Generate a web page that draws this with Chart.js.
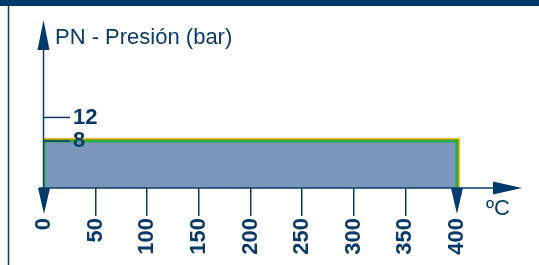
<!DOCTYPE html>
<html><head><meta charset="utf-8">
<script src="https://cdn.jsdelivr.net/npm/chart.js@4/dist/chart.umd.min.js"></script>
<style>html,body{margin:0;padding:0;background:#fff;overflow:hidden}#wrap{width:539px;height:265px;position:relative}canvas{display:block}</style>
</head><body><div id="wrap"><canvas id="c" width="539" height="265" style="width:539px;height:265px"></canvas></div>
<script>
// Data
const temperatures = [0, 0, 400, 400];
const pressurePN8 = [0, 8, 8, 0];
const pressureOutline = [0, 8, 8, 0];
const xTickValues = [0, 50, 100, 150, 200, 250, 300, 350, 400];
const yTickValues = [8, 12];
const yTitle = 'PN - Presión (bar)';
const xTitle = 'ºC';

const NAVY = '#0b3a6a';
const FONT = '"Liberation Sans", Arial, sans-serif';

const decor = {
  id: 'decor',
  afterDraw(chart) {
    const ctx = chart.ctx;
    const xs = chart.scales.x, ys = chart.scales.y;
    const x0 = xs.getPixelForValue(0);
    const y0 = ys.getPixelForValue(0);
    ctx.save();
    ctx.fillStyle = '#003a6b';
    ctx.fillRect(0, 0, 539, 6);
    ctx.strokeStyle = NAVY;
    ctx.lineWidth = 1.5;
    ctx.beginPath(); ctx.moveTo(8.5, 6); ctx.lineTo(8.5, 265); ctx.stroke();
    ctx.beginPath(); ctx.moveTo(x0 - 0.5, y0); ctx.lineTo(x0 - 0.5, 45); ctx.stroke();
    ctx.fillStyle = '#003a6b';
    ctx.beginPath(); ctx.moveTo(x0 - 0.5, 20); ctx.lineTo(x0 - 6.5, 50); ctx.lineTo(x0 + 5.5, 50); ctx.closePath(); ctx.fill();
    ctx.beginPath(); ctx.moveTo(39, y0); ctx.lineTo(495, y0); ctx.stroke();
    ctx.beginPath(); ctx.moveTo(522, y0); ctx.lineTo(493, y0 - 6.5); ctx.lineTo(493, y0 + 6.5); ctx.closePath(); ctx.fill();
    [0, 400].forEach(v => {
      const px = xs.getPixelForValue(v);
      ctx.beginPath(); ctx.moveTo(px - 6, y0); ctx.lineTo(px + 6, y0); ctx.lineTo(px, y0 + 26); ctx.closePath(); ctx.fill();
    });
    yTickValues.forEach(v => {
      const py = ys.getPixelForValue(v);
      ctx.beginPath(); ctx.moveTo(x0, py); ctx.lineTo(x0 + 26, py); ctx.stroke();
    });
    ctx.fillStyle = NAVY;
    ctx.font = '22px ' + FONT;
    ctx.textAlign = 'left';
    ctx.textBaseline = 'alphabetic';
    ctx.fillText(yTitle, 55, 44);
    ctx.fillText(xTitle, 486, 215);
    ctx.restore();
  }
};

new Chart(document.getElementById('c'), {
  type: 'line',
  data: {
    labels: temperatures,
    datasets: [
      {
        data: temperatures.map((t, i) => ({x: t, y: pressurePN8[i]})),
        borderColor: '#2aa84a',
        borderWidth: 3,
        backgroundColor: '#7b96bb',
        fill: 'origin',
        pointRadius: 0,
        tension: 0
      },
      {
        data: temperatures.map((t, i) => ({x: t, y: pressureOutline[i]})),
        borderColor: '#f7b500',
        borderWidth: 6,
        fill: false,
        pointRadius: 0,
        tension: 0
      }
    ]
  },
  options: {
    responsive: false,
    maintainAspectRatio: false,
    animation: false,
    devicePixelRatio: 1,
    layout: {padding: {left: 0, top: 20, right: 17, bottom: 0}},
    plugins: {legend: {display: false}, tooltip: {enabled: false}, title: {display: false}},
    scales: {
      x: {
        type: 'linear',
        min: 0,
        max: 463,
        afterBuildTicks: s => { s.ticks = xTickValues.map(v => ({value: v})); },
        afterFit: s => { s.height = 77; },
        border: {display: false},
        grid: {
          drawOnChartArea: false,
          drawTicks: true,
          tickLength: 28,
          lineWidth: 1.5,
          color: c => (c.tick && (c.tick.value === 0 || c.tick.value === 400)) ? 'rgba(0,0,0,0)' : NAVY
        },
        ticks: {
          autoSkip: false,
          minRotation: 90,
          maxRotation: 90,
          padding: 2,
          color: NAVY,
          font: {family: FONT, size: 22, weight: 'bold'}
        }
      },
      y: {
        type: 'linear',
        min: 0,
        max: 24.8,
        afterBuildTicks: s => { s.ticks = yTickValues.map(v => ({value: v})); },
        afterFit: s => { s.width = 44; },
        border: {display: false},
        grid: {display: false},
        ticks: {
          z: 1,
          mirror: true,
          padding: 29,
          color: NAVY,
          font: {family: FONT, size: 22, weight: 'bold'}
        }
      }
    }
  },
  plugins: [decor]
});
</script>
</body></html>
